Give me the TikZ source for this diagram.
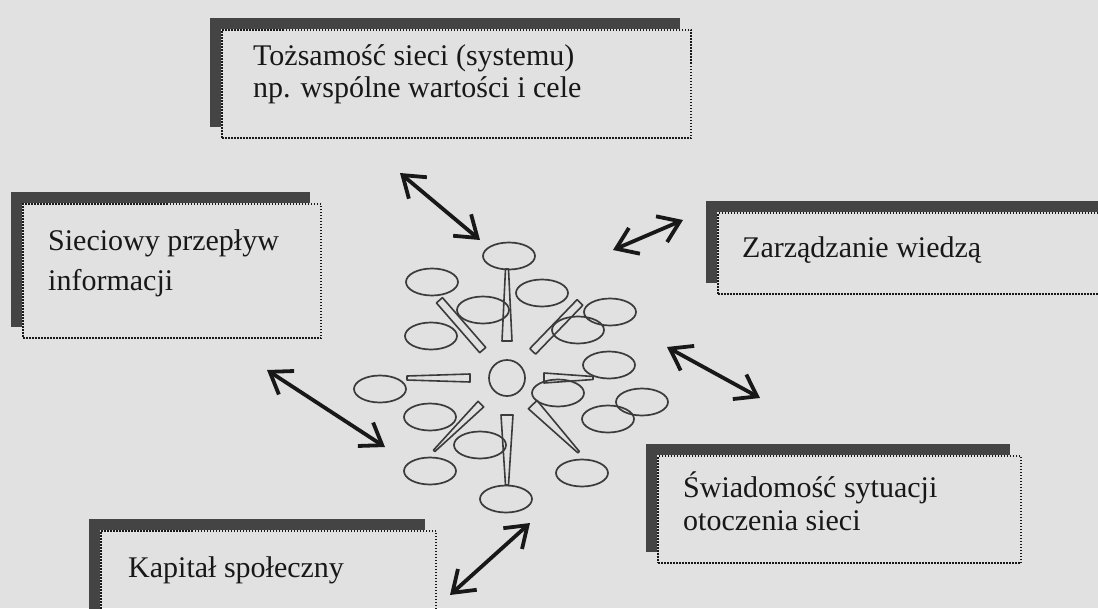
\documentclass[tikz,border=0pt]{standalone}
\usepackage{fontspec}
\setmainfont{Liberation Serif}
\usetikzlibrary{arrows.meta,shapes.geometric}
\definecolor{paper}{RGB}{225,225,225}
\definecolor{ink}{RGB}{24,24,24}
\definecolor{dBar}{RGB}{68,68,68}

\begin{document}
\begin{tikzpicture}[x=1pt,y=-1pt,
  box/.style={draw=ink,line width=2pt,dash pattern=on 1.5pt off 1.5pt,anchor=north west,inner sep=0pt},
  bar/.style={fill=dBar},
  txt/.style={anchor=base west,inner sep=0pt,align=left,text=ink},
  ell/.style={draw=ink!85,ellipse,line width=1.7pt,minimum width=52pt,minimum height=27pt,inner sep=0pt},
  hub/.style={draw=ink!85,circle,line width=1.7pt,minimum size=36pt,inner sep=0pt},
  spk/.style={draw=ink!85,line width=1.6pt,line join=round},
  ar/.style={{Straight Barb[length=20pt,width=28pt]}-{Straight Barb[length=20pt,width=28pt]},line width=3.8pt,draw=ink}]
\fill[paper] (0,0) rectangle (1098,608);
\useasboundingbox (0,0) rectangle (1098,608);
\node[box,minimum width=469pt,minimum height=108pt] (tozs) at (221,29) {};
\node[box,minimum width=298pt,minimum height=134pt] (siec) at (22,203) {};
\node[box,minimum width=400pt,minimum height=81pt] (zarz) at (717,212) {};
\node[box,minimum width=363pt,minimum height=107pt] (swiad) at (657,455) {};
\node[box,minimum width=335pt,minimum height=100pt] (kap) at (100,530) {};
\foreach \n in {tozs,siec,zarz,swiad,kap} {
  \fill[bar] ([shift={(-11,-11)}]\n.north west) rectangle ([xshift=-12pt]\n.north east);
  \fill[bar] ([xshift=-11pt]\n.north west) rectangle ([yshift=12pt]\n.south west);
}
\node[txt,font=\fontsize{30}{32}\selectfont] (t1) at (253,97) {Tożsamość sieci (systemu)\\np. wspólne wartości i cele};
\node[txt,font=\fontsize{30}{40}\selectfont] (t2) at (48,290) {Sieciowy przepływ\\informacji};
\node[txt,font=\fontsize{30}{32}\selectfont] (t3) at (742,257) {Zarządzanie wiedzą};
\node[txt,font=\fontsize{30}{33}\selectfont] (t4) at (683,530) {Świadomość sytuacji\\otoczenia sieci};
\node[txt,font=\fontsize{30}{32}\selectfont] (t5) at (128,577) {Kapitał społeczny};
\node[hub] (hub) at (507,378) {};
\foreach \i/\x/\y in {1/509/256,2/432/282,3/542/293,4/483/310,5/610/312,6/431/336,7/578/330,8/609/365,9/380/389,
  10/558/393,11/642/402,12/430/417,13/608/419,14/480/445,15/430/471,16/582/473,17/506/499}
  \node[ell] (e\i) at (\x,\y) {};
\foreach \a/\r/\w/\v in {90/109/5/1.5,131/103/4/4,46/105/4/4,180/100/4/2,0/86/5/1.5,225/103/4/1,270/107/6/1.5,314/103/6/1}
  \draw[spk,shift={(hub.center)},rotate=\a] (37,-\w) -- (\r,-\v) -- (\r,\v) -- (37,\w) -- cycle;
\coordinate (p1) at (400,173); \coordinate (q1) at (480,240);
\coordinate (p2) at (613,250); \coordinate (q2) at (683,220);
\coordinate (p3) at (267,370); \coordinate (q3) at (385,447);
\coordinate (p4) at (667,347); \coordinate (q4) at (760,398);
\coordinate (p5) at (450,595); \coordinate (q5) at (530,523);
\foreach \i in {1,...,5} \draw[ar] (p\i) -- (q\i);
\end{tikzpicture}
\end{document}
